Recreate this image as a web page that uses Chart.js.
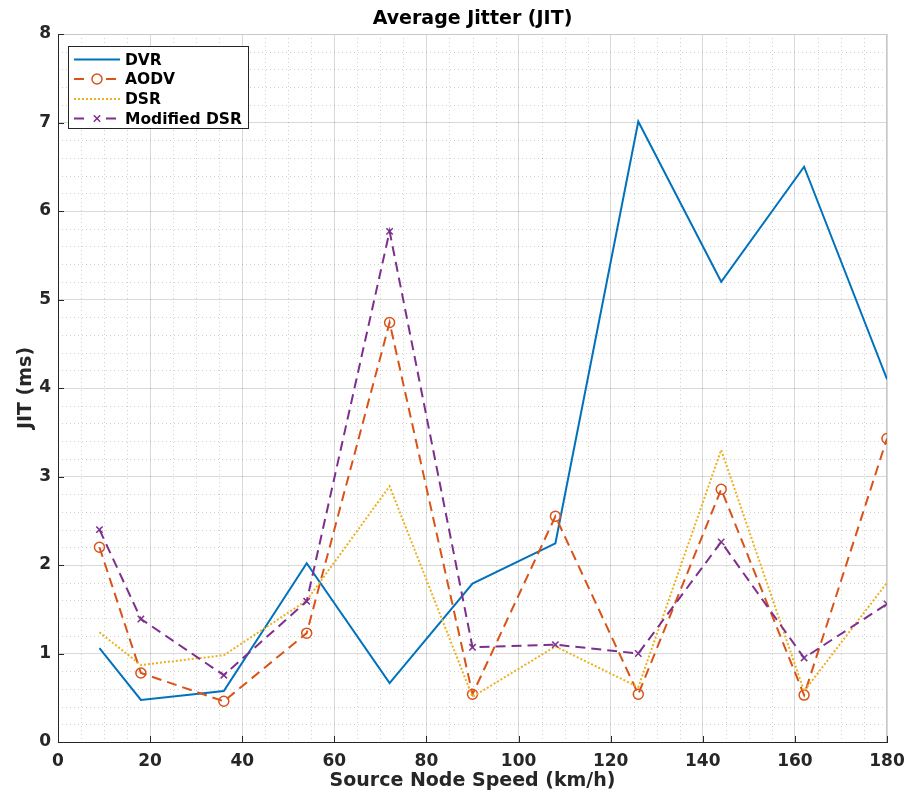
<!DOCTYPE html>
<html>
<head>
<meta charset="utf-8">
<script src="https://cdn.jsdelivr.net/npm/chart.js@4.4.1/dist/chart.umd.min.js"></script>
<style>
html,body{margin:0;padding:0;background:#fff;}
#wrap{width:908px;height:792px;}
</style>
</head>
<body>
<div id="wrap"><canvas id="c" width="908" height="792"></canvas></div>
<script>
const speeds = [9, 18, 36, 54, 72, 90, 108, 126, 144, 162, 180];
const dvr = [1.06, 0.475, 0.575, 2.02, 0.665, 1.79, 2.245, 7.01, 5.2, 6.5, 4.1];
const aodv = [2.2, 0.78, 0.46, 1.23, 4.74, 0.54, 2.55, 0.54, 2.855, 0.53, 3.43];
const dsr = [1.24, 0.87, 0.98, 1.6, 2.89, 0.51, 1.08, 0.62, 3.3, 0.575, 1.8];
const modDsr = [2.4, 1.39, 0.755, 1.59, 5.77, 1.07, 1.1, 1.0, 2.26, 0.95, 1.56];
const seriesNames = ['DVR', 'AODV', 'DSR', 'Modified DSR'];
const xTicks = [0, 20, 40, 60, 80, 100, 120, 140, 160, 180];
const yTicks = [0, 1, 2, 3, 4, 5, 6, 7, 8];
const xMinorTicks = [5, 10, 15, 25, 30, 35, 45, 50, 55, 65, 70, 75, 85, 90, 95, 105, 110, 115, 125, 130, 135, 145, 150, 155, 165, 170, 175];
const yMinorTicks = [0.2, 0.4, 0.6, 0.8, 1.2, 1.4, 1.6, 1.8, 2.2, 2.4, 2.6, 2.8, 3.2, 3.4, 3.6, 3.8, 4.2, 4.4, 4.6, 4.8, 5.2, 5.4, 5.6, 5.8, 6.2, 6.4, 6.6, 6.8, 7.2, 7.4, 7.6, 7.8];
const titleText = 'Average Jitter (JIT)';

const FONT = "'DejaVu Sans', sans-serif";
const AX = '#262626';
const toPts = arr => arr.map((v, i) => ({x: speeds[i], y: v}));

const framePlugin = {
  id: 'frame',
  beforeDatasetsDraw(chart) {
    const ctx = chart.ctx;
    const {left, right, top, bottom} = chart.chartArea;
    const xs = chart.scales.x, ys = chart.scales.y;
    ctx.save();
    ctx.strokeStyle = 'rgba(0,0,0,0.18)';
    ctx.lineWidth = 1;
    ctx.setLineDash([1, 3]);
    xMinorTicks.forEach(v => {
      const px = Math.round(xs.getPixelForValue(v)) + 0.5;
      ctx.beginPath(); ctx.moveTo(px, top); ctx.lineTo(px, bottom); ctx.stroke();
    });
    yMinorTicks.forEach(v => {
      const py = Math.round(ys.getPixelForValue(v)) + 0.5;
      ctx.beginPath(); ctx.moveTo(left, py); ctx.lineTo(right, py); ctx.stroke();
    });
    ctx.setLineDash([]);
    ctx.strokeStyle = '#c8c8c8';
    ctx.beginPath();
    ctx.moveTo(left, Math.round(top) + 0.5); ctx.lineTo(right, Math.round(top) + 0.5);
    ctx.moveTo(Math.round(right) - 0.5, top); ctx.lineTo(Math.round(right) - 0.5, bottom);
    ctx.stroke();
    ctx.strokeStyle = AX;
    xTicks.forEach(v => {
      const px = Math.round(xs.getPixelForValue(v)) + 0.5;
      ctx.beginPath(); ctx.moveTo(px, bottom); ctx.lineTo(px, bottom - 6); ctx.stroke();
    });
    yTicks.forEach(v => {
      const py = Math.round(ys.getPixelForValue(v)) + 0.5;
      ctx.beginPath(); ctx.moveTo(left, py); ctx.lineTo(left + 6, py); ctx.stroke();
    });
    ctx.restore();
  },
  afterDraw(chart) {
    const ctx = chart.ctx;
    const {left, right} = chart.chartArea;
    ctx.save();
    ctx.fillStyle = '#000';
    ctx.font = 'bold 19px ' + FONT;
    ctx.textAlign = 'center';
    ctx.textBaseline = 'middle';
    ctx.fillText(titleText, (left + right) / 2, 19);
    ctx.restore();
  }
};

const legendPlugin = {
  id: 'boxLegend',
  afterDraw(chart) {
    const ctx = chart.ctx;
    const ds = chart.data.datasets;
    const x0 = 68.5, y0 = 46.5, w = 180, h = 82;
    ctx.save();
    ctx.fillStyle = '#fff';
    ctx.fillRect(x0, y0, w, h);
    ctx.strokeStyle = AX;
    ctx.lineWidth = 1;
    ctx.setLineDash([]);
    ctx.strokeRect(x0, y0, w, h);
    const rows = [59.5, 79, 99, 118.5];
    ds.forEach((d, i) => {
      const y = rows[i];
      ctx.save();
      ctx.strokeStyle = d.borderColor;
      ctx.lineWidth = d.borderWidth;
      ctx.setLineDash(d.legendDash || []);
      ctx.beginPath();
      ctx.moveTo(74, y);
      ctx.lineTo(120, y);
      ctx.stroke();
      ctx.restore();
      if (d.pointRadius > 0) {
        ctx.save();
        ctx.fillStyle = '#fff';
        ctx.fillRect(89, y - 7, 16, 14);
        ctx.restore();
        ctx.save();
        ctx.strokeStyle = d.pointBorderColor;
        ctx.fillStyle = 'rgba(0,0,0,0)';
        ctx.lineWidth = d.pointBorderWidth;
        Chart.helpers.drawPoint(ctx, {pointStyle: d.pointStyle, radius: d.pointRadius, borderWidth: d.pointBorderWidth}, 97, y);
        ctx.restore();
      }
      ctx.fillStyle = '#000';
      ctx.font = "bold 15.5px " + FONT;
      ctx.textAlign = 'left';
      ctx.textBaseline = 'middle';
      ctx.fillText(d.label, 125, y + 1);
    });
    ctx.restore();
  }
};

new Chart(document.getElementById('c'), {
  type: 'line',
  data: {
    datasets: [
      {label: seriesNames[0], data: toPts(dvr), borderColor: '#0072BD', backgroundColor: '#0072BD',
       borderWidth: 2, pointRadius: 0, order: 4, legendDash: []},
      {label: seriesNames[1], data: toPts(aodv), borderColor: '#D95319', backgroundColor: 'rgba(0,0,0,0)',
       borderWidth: 2, borderDash: [10, 6], pointStyle: 'circle', pointRadius: 5,
       pointBorderColor: '#D95319', pointBackgroundColor: 'rgba(0,0,0,0)', pointBorderWidth: 1.5, order: 3, legendDash: [10, 6]},
      {label: seriesNames[2], data: toPts(dsr), borderColor: '#EDB120', backgroundColor: '#EDB120',
       borderWidth: 2, borderDash: [2, 2], pointRadius: 0, order: 2, legendDash: [2, 2]},
      {label: seriesNames[3], data: toPts(modDsr), borderColor: '#7E2F8E', backgroundColor: 'rgba(0,0,0,0)',
       borderWidth: 2, borderDash: [10, 6], pointStyle: 'crossRot', pointRadius: 4.5,
       pointBorderColor: '#7E2F8E', pointBorderWidth: 1.5, order: 1, legendDash: [10, 6]}
    ]
  },
  options: {
    responsive: false,
    animation: false,
    layout: {padding: {left: 0, right: 21, top: 34, bottom: 0}},
    plugins: {
      legend: {display: false},
      tooltip: {enabled: false},
      title: {display: false}
    },
    scales: {
      x: {
        type: 'linear', position: 'bottom', min: 0, max: 180,
        afterBuildTicks: s => { s.ticks = xTicks.map(v => ({value: v})); },
        afterFit: s => { s.height = 50; s.paddingLeft = 0; s.paddingRight = 0; },
        ticks: {color: AX, font: {family: FONT, size: 17, weight: 'bold'}, padding: 9, maxRotation: 0, autoSkip: false},
        grid: {color: 'rgba(0,0,0,0.15)', drawTicks: false},
        border: {display: true, color: AX, width: 1},
        title: {display: true, text: 'Source Node Speed (km/h)', color: AX,
          font: {family: FONT, size: 19, weight: 'bold'}, padding: {top: 0, bottom: 0}}
      },
      y: {
        type: 'linear', position: 'left', min: 0, max: 8,
        afterBuildTicks: s => { s.ticks = yTicks.map(v => ({value: v})); },
        afterFit: s => { s.width = 58; s.paddingTop = 0; s.paddingBottom = 0; },
        ticks: {color: AX, font: {family: FONT, size: 17, weight: 'bold'}, padding: 7},
        grid: {color: 'rgba(0,0,0,0.15)', drawTicks: false},
        border: {display: true, color: AX, width: 1},
        title: {display: true, text: 'JIT (ms)', color: AX,
          font: {family: FONT, size: 19, weight: 'bold'}, padding: {top: 15, bottom: 0}}
      }
    }
  },
  plugins: [framePlugin, legendPlugin]
});
</script>
</body>
</html>
